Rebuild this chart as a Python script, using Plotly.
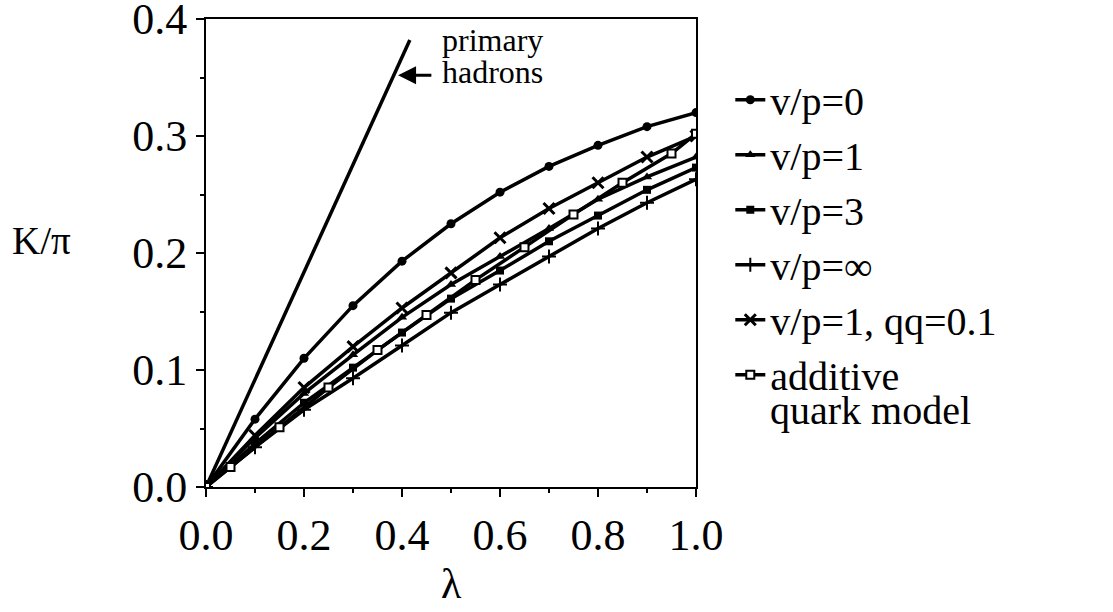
import plotly.graph_objects as go

# lambda grid for the model curves
lam = [0.0, 0.1, 0.2, 0.3, 0.4, 0.5, 0.6, 0.7, 0.8, 0.9, 1.0]
# additive quark model is evaluated on a shifted grid
lam_aqm = [0.0, 0.05, 0.15, 0.25, 0.35, 0.45, 0.55, 0.65, 0.75, 0.85, 0.95, 1.0]

k_vp0 = [0.0, 0.058, 0.110, 0.155, 0.193, 0.225, 0.252, 0.274, 0.292, 0.308, 0.320]
k_vp1 = [0.0, 0.042, 0.080, 0.113, 0.145, 0.173, 0.197, 0.221, 0.246, 0.265, 0.282]
k_vp3 = [0.0, 0.037, 0.072, 0.102, 0.132, 0.161, 0.185, 0.210, 0.232, 0.254, 0.273]
k_vpinf = [0.0, 0.034, 0.066, 0.093, 0.121, 0.149, 0.173, 0.197, 0.221, 0.243, 0.263]
k_vp1_qq = [0.0, 0.044, 0.085, 0.120, 0.153, 0.183, 0.213, 0.238, 0.260, 0.282, 0.300]
k_aqm = [0.0, 0.017, 0.051, 0.085, 0.117, 0.147, 0.177, 0.205, 0.233, 0.260, 0.285, 0.302]

# primary hadrons: straight line from the origin
lam_primary = [0.0, 0.416]
k_primary = [0.0, 0.382]

x_ticks = [0.0, 0.2, 0.4, 0.6, 0.8, 1.0]
x_tick_text = ["0.0", "0.2", "0.4", "0.6", "0.8", "1.0"]
y_ticks = [0.0, 0.1, 0.2, 0.3, 0.4]
y_tick_text = ["0.0", "0.1", "0.2", "0.3", "0.4"]

SERIF = "Liberation Serif, Times New Roman, serif"
LW = 3.5

fig = go.Figure()

fig.add_trace(go.Scatter(x=lam_primary, y=k_primary, mode="lines",
                         line=dict(color="black", width=LW), showlegend=False))

series = [
    ("v/p=0", lam, k_vp0, dict(symbol="circle", size=9, color="black")),
    ("v/p=1", lam, k_vp1, dict(symbol="triangle-up", size=9, color="black")),
    ("v/p=3", lam, k_vp3, dict(symbol="square", size=8, color="black")),
    ("v/p=\u221e", lam, k_vpinf, dict(symbol="cross-thin-open", size=10, color="black",
                                      line=dict(width=2, color="black"))),
    ("v/p=1, qq=0.1", lam, k_vp1_qq, dict(symbol="x-thin-open", size=11, color="black",
                                           line=dict(width=3, color="black"))),
    ("additive", lam_aqm, k_aqm, dict(symbol="square", size=8, color="white",
                                      line=dict(width=2, color="black"))),
]
for name, xs, ys, mk in series:
    fig.add_trace(go.Scatter(x=xs, y=ys, mode="lines+markers", name=name,
                             line=dict(color="black", width=LW), marker=mk))

# second line of the last legend label, set tighter than the legend's own spacing
fig.add_annotation(x=1.146, y=0.1645, xref="paper", yref="paper", text="quark model",
                   showarrow=False, xanchor="left", yanchor="middle",
                   font=dict(family=SERIF, size=40, color="black"))

fig.add_annotation(x=0.478, y=0.382, xref="x", yref="y", text="primary",
                   showarrow=False, xanchor="left", yanchor="middle",
                   font=dict(family=SERIF, size=32, color="black"))
fig.add_annotation(x=0.478, y=0.355, xref="x", yref="y", text="hadrons",
                   showarrow=False, xanchor="left", yanchor="middle",
                   font=dict(family=SERIF, size=32, color="black"))
fig.add_annotation(x=0.392, y=0.352, xref="x", yref="y", ax=0.463, ay=0.352,
                   axref="x", ayref="y", text="", showarrow=True,
                   arrowhead=2, arrowsize=1.2, arrowwidth=3, arrowcolor="black")

fig.add_annotation(x=-0.335, y=0.211, xref="paper", yref="y", text="K/\u03c0",
                   showarrow=False, xanchor="center", yanchor="middle",
                   font=dict(family=SERIF, size=39, color="black"))
fig.add_annotation(x=0.5, y=-0.26, xref="paper", yref="paper", text="\u03bb",
                   showarrow=False, xanchor="center", yanchor="bottom",
                   font=dict(family=SERIF, size=42, color="black"))

axis_common = dict(showline=True, linecolor="black", linewidth=2, mirror=True,
                   ticks="outside", tickcolor="black", tickwidth=2, ticklen=8,
                   showgrid=False, zeroline=False, ticklabeloverflow="allow",
                   automargin=False,
                   tickfont=dict(family=SERIF, size=44, color="black"))

fig.update_xaxes(range=[0, 1.0], tickvals=x_ticks, ticktext=x_tick_text,
                 minor=dict(tickvals=[0.1, 0.3, 0.5, 0.7, 0.9], ticks="outside",
                            ticklen=4, tickcolor="black", tickwidth=2),
                 **axis_common)
fig.update_yaxes(range=[0, 0.4], tickvals=y_ticks, ticktext=y_tick_text,
                 minor=dict(tickvals=[0.05, 0.15, 0.25, 0.35], ticks="outside",
                            ticklen=4, tickcolor="black", tickwidth=2),
                 **axis_common)

fig.update_layout(
    width=1113, height=612,
    margin=dict(l=206, r=417, t=19, b=125, autoexpand=False),
    paper_bgcolor="white", plot_bgcolor="white",
    font=dict(family=SERIF, color="black"),
    legend=dict(x=1.07, y=0.897, xanchor="left", yanchor="top",
                font=dict(family=SERIF, size=40, color="black"),
                itemwidth=30, tracegroupgap=0, bgcolor="rgba(0,0,0,0)"),
)

fig.write_html("out.html")
